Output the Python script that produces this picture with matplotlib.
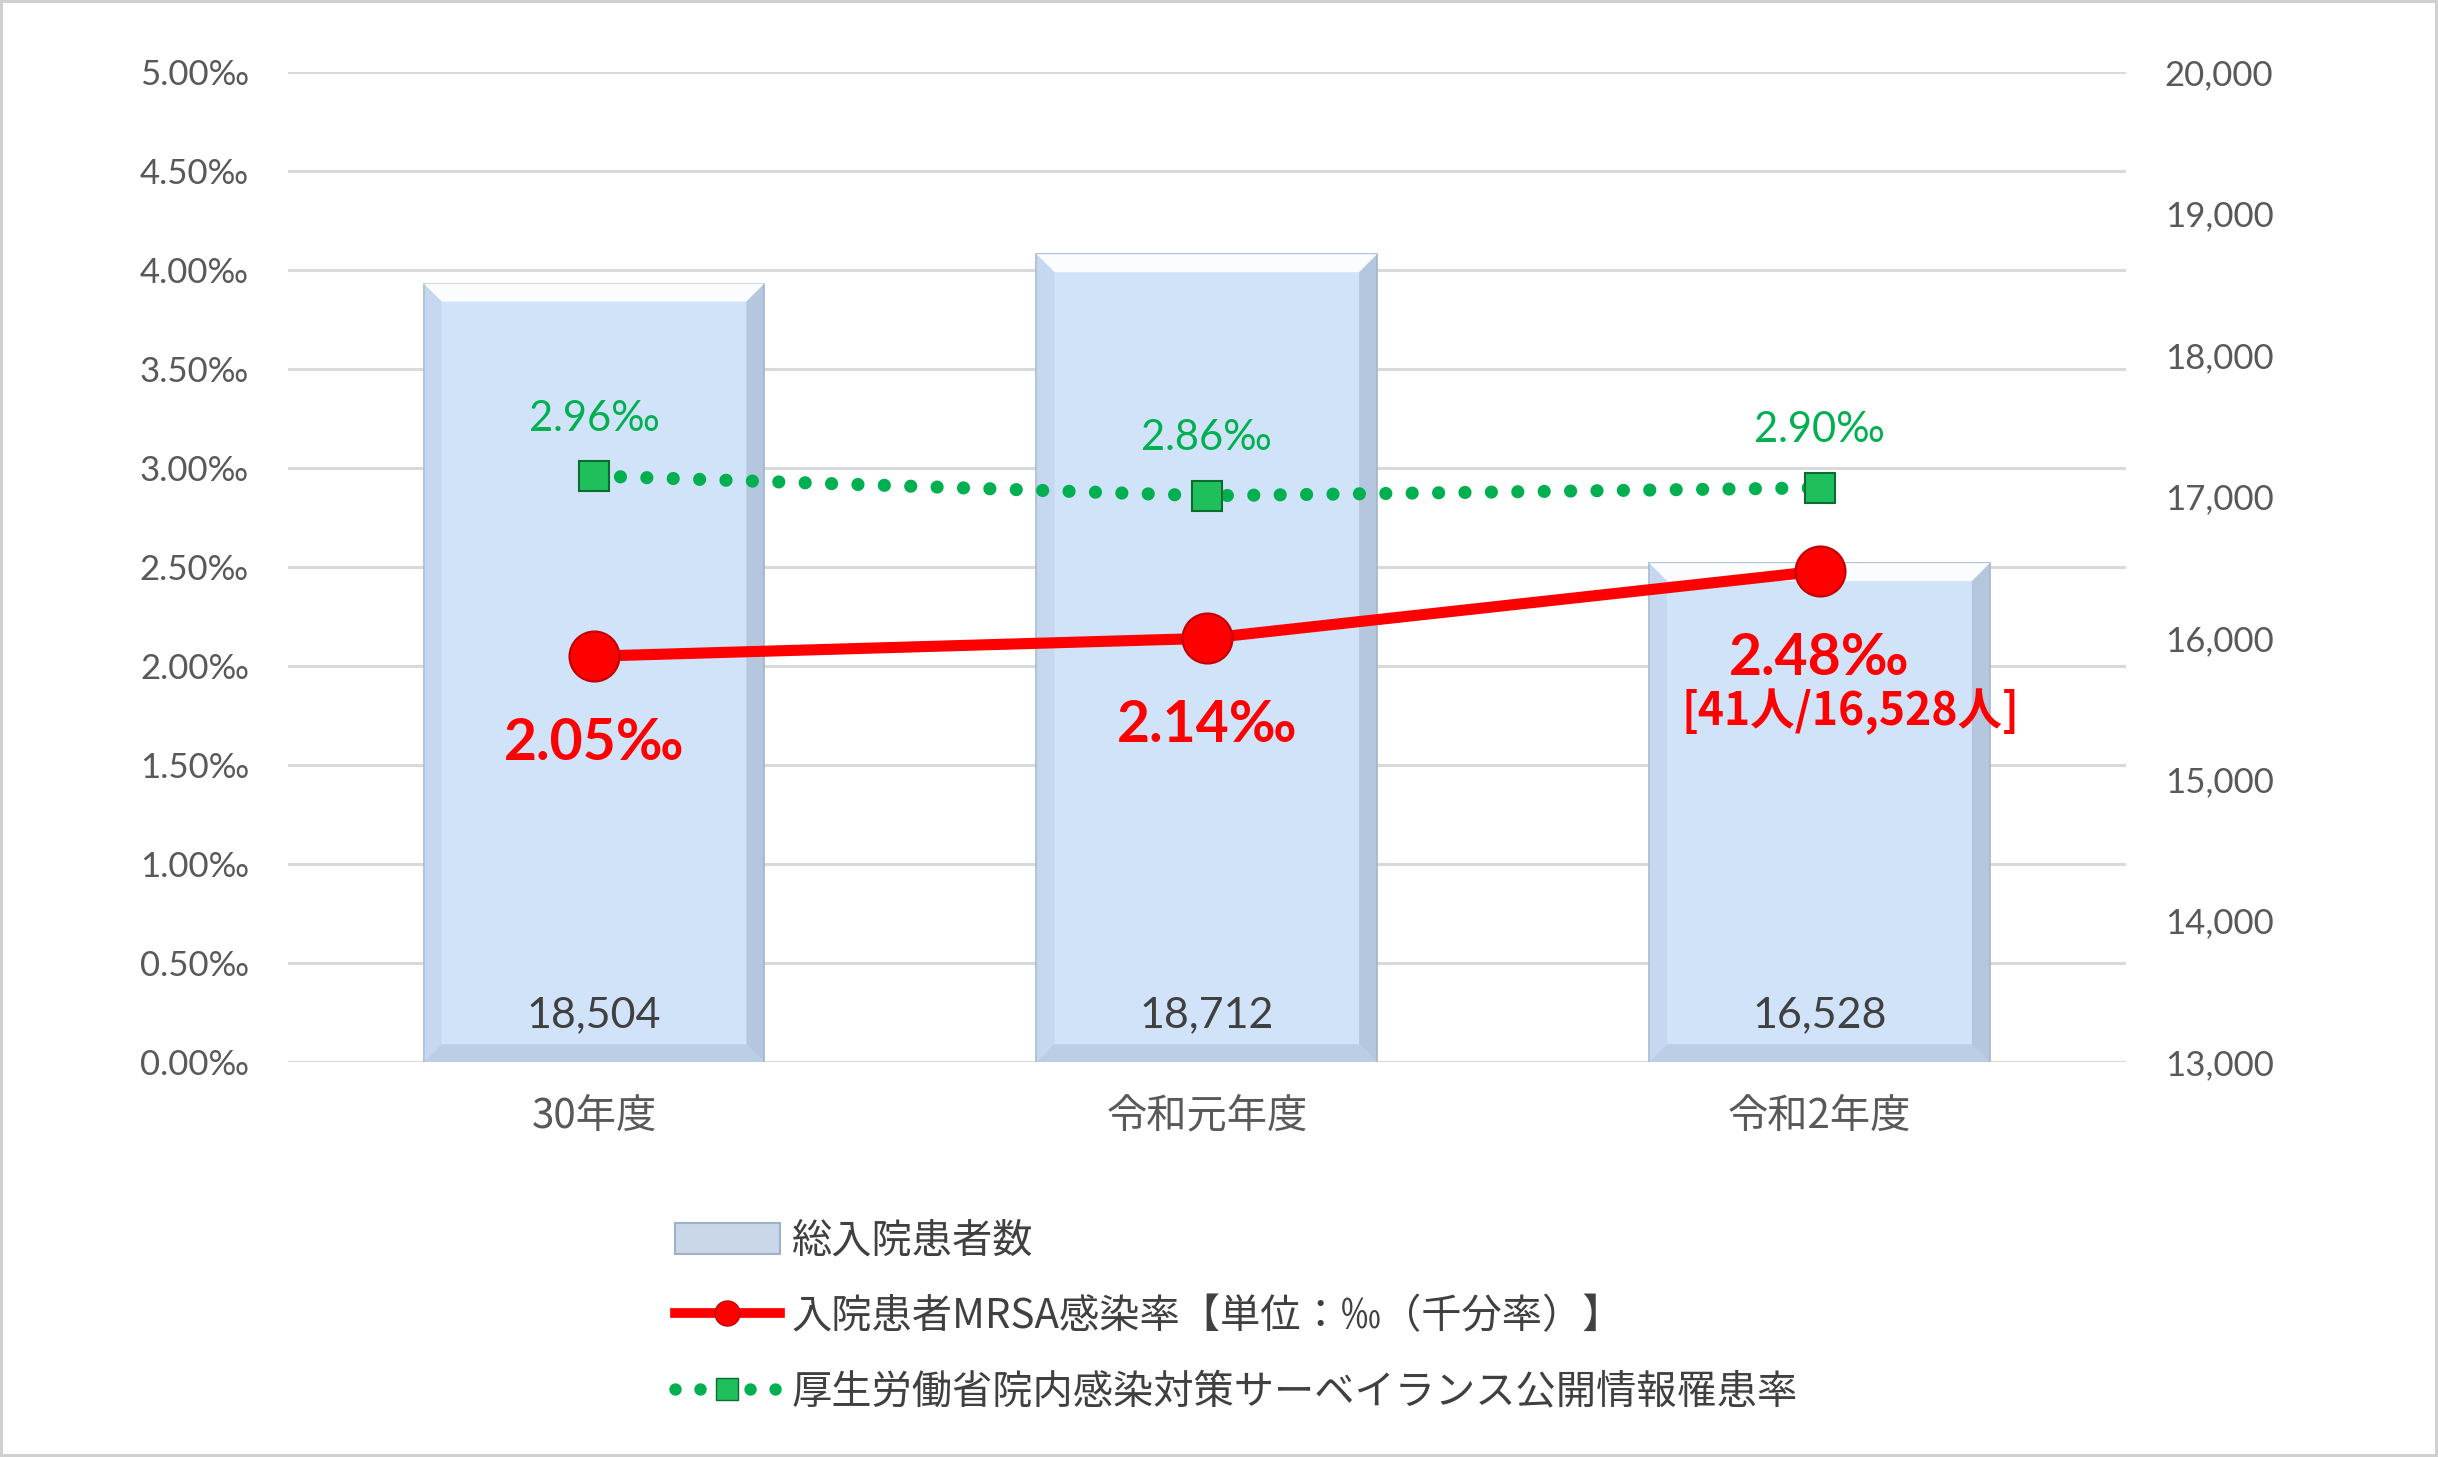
import matplotlib
matplotlib.use('Agg')
import matplotlib.pyplot as plt
from matplotlib.lines import Line2D
from matplotlib.patches import Patch, Polygon

plt.rcParams['font.family'] = ['Lato', 'Noto Sans CJK JP', 'DejaVu Sans']

# data
years = ['30年度', '令和元年度', '令和2年度']
patients = [18504, 18712, 16528]
mrsa_rate = [2.05, 2.14, 2.48]
mhlw_rate = [2.96, 2.86, 2.90]
mrsa_labels = ['2.05‰', '2.14‰', '2.48‰']
mhlw_labels = ['2.96‰', '2.86‰', '2.90‰']
extra_note = '[41人/16,528人]'
left_ticks = [i * 0.5 for i in range(11)]
right_ticks = list(range(13000, 20001, 1000))

gray = '#595959'
red = '#FF0000'
green = '#00B050'
bar_fc = '#D0E3F9'

fig = plt.figure(figsize=(24.38, 14.57), dpi=100)
fig.patch.set_edgecolor('#D0D0D0')
fig.patch.set_linewidth(3)

# bars on the axis whose scale shows on the right
ax = fig.add_axes([0.118, 0.271, 0.754, 0.6796])
x = list(range(len(years)))
bars = ax.bar(x, patients, width=0.556, bottom=0, color=bar_fc,
              edgecolor='#A8B8CC', linewidth=1.2, zorder=2)
ax.set_ylim(13000, 20000)
ax.set_xlim(-0.5, 2.5)
ax.set_xticks(x)
ax.set_xticklabels(years, family=['Noto Sans CJK JP'])
ax.tick_params(axis='x', length=0, pad=24, labelsize=29, labelcolor=gray)
for s in ax.spines.values():
    s.set_visible(False)
for v in left_ticks:
    ax.axhline(13000 + v * 1400, color='#D9D9D9', lw=2.2, zorder=1)

# simple bevel on each bar, built from the bar's own geometry
depth = 18  # pixels
to_px = ax.transData
to_data = ax.transData.inverted()
for r in bars:
    x0, y0 = to_px.transform((r.get_x(), ax.get_ylim()[0]))
    x1, y1 = to_px.transform((r.get_x() + r.get_width(), r.get_height()))
    faces = [
        ([(x0, y1), (x1, y1), (x1 - depth, y1 - depth), (x0 + depth, y1 - depth)], '#FFFFFF', 0.9),
        ([(x1, y1), (x1, y0), (x1 - depth, y0 + depth), (x1 - depth, y1 - depth)], '#9FB1C8', 0.55),
        ([(x0, y1), (x0 + depth, y1 - depth), (x0 + depth, y0 + depth), (x0, y0)], '#B9CCE4', 0.45),
        ([(x0, y0), (x0 + depth, y0 + depth), (x1 - depth, y0 + depth), (x1, y0)], '#A9BDD8', 0.55),
    ]
    for pts, c, a in faces:
        ax.add_patch(Polygon(to_data.transform(pts), closed=True, facecolor=c,
                             edgecolor='none', alpha=a, zorder=2.5))

for xi, p in zip(x, patients):
    ax.text(xi, 13330, f'{p:,}', ha='center', va='center', fontsize=31,
            color='#404040', zorder=3)

# lines on twin axis, scale on the left
ax2 = ax.twinx()
ax.yaxis.tick_right()
ax.set_yticks(right_ticks)
ax.set_yticklabels([f'{v:,}' for v in right_ticks])
ax.tick_params(axis='y', length=0, pad=28, labelsize=25, labelcolor=gray)
ax2.set_ylim(0, 5)
ax2.yaxis.tick_left()
ax2.set_yticks(left_ticks)
ax2.set_yticklabels([f'{v:.2f}‰' for v in left_ticks])
ax2.tick_params(axis='y', length=0, pad=28, labelsize=25, labelcolor=gray)
for s in ax2.spines.values():
    s.set_visible(False)

dots = (0, (0.001, 2))
ax2.plot(x, mhlw_rate, color=green, lw=9.5, linestyle=dots,
         dash_capstyle='round', zorder=3)
ax2.plot(x, mhlw_rate, linestyle='none', marker='s', markersize=22,
         markerfacecolor='#1FBF5C', markeredgecolor='#0B6B30',
         markeredgewidth=1.5, zorder=4)
ax2.plot(x, mrsa_rate, color=red, lw=8, solid_capstyle='round', zorder=5)
ax2.plot(x, mrsa_rate, linestyle='none', marker='o', markersize=36,
         markerfacecolor=red, markeredgecolor='#C00000', markeredgewidth=1.5,
         zorder=6)

for xi, v, t in zip(x, mhlw_rate, mhlw_labels):
    ax2.text(xi, v + 0.29, t, ha='center', va='center', fontsize=30,
             color=green)
for xi, v, t in zip(x, mrsa_rate, mrsa_labels):
    ax2.text(xi, v - 0.44, t, ha='center', va='center', fontsize=41,
             color=red, fontweight='bold')
ax2.text(x[2] + 0.05, mrsa_rate[2] - 0.71, extra_note, ha='center',
         va='center', fontsize=32, color=red, fontweight='bold',
         family=['Noto Sans CJK JP', 'DejaVu Sans'])

handles = [
    Patch(facecolor='#C9D7E8', edgecolor='#9FB1C8', linewidth=1.5),
    Line2D([], [], color=red, lw=7, marker='o', markersize=18,
           markerfacecolor=red, markeredgecolor='#C00000'),
    Line2D([], [], color=green, lw=9, linestyle=dots,
           dash_capstyle='round', marker='s', markersize=16,
           markerfacecolor='#1FBF5C', markeredgecolor='#0B6B30'),
]
labels = ['総入院患者数', '入院患者MRSA感染率【単位：‰（千分率）】',
          '厚生労働省院内感染対策サーベイランス公開情報罹患率']
fig.legend(handles, labels, loc='upper left', bbox_to_anchor=(0.262, 0.187),
           frameon=False, handlelength=2.6, handleheight=0.8,
           labelspacing=0.85, handletextpad=0.3,
           prop={'family': ['Noto Sans CJK JP', 'DejaVu Sans'], 'size': 29},
           labelcolor='#404040')

fig.savefig('out.png', dpi=100, edgecolor=fig.get_edgecolor())
